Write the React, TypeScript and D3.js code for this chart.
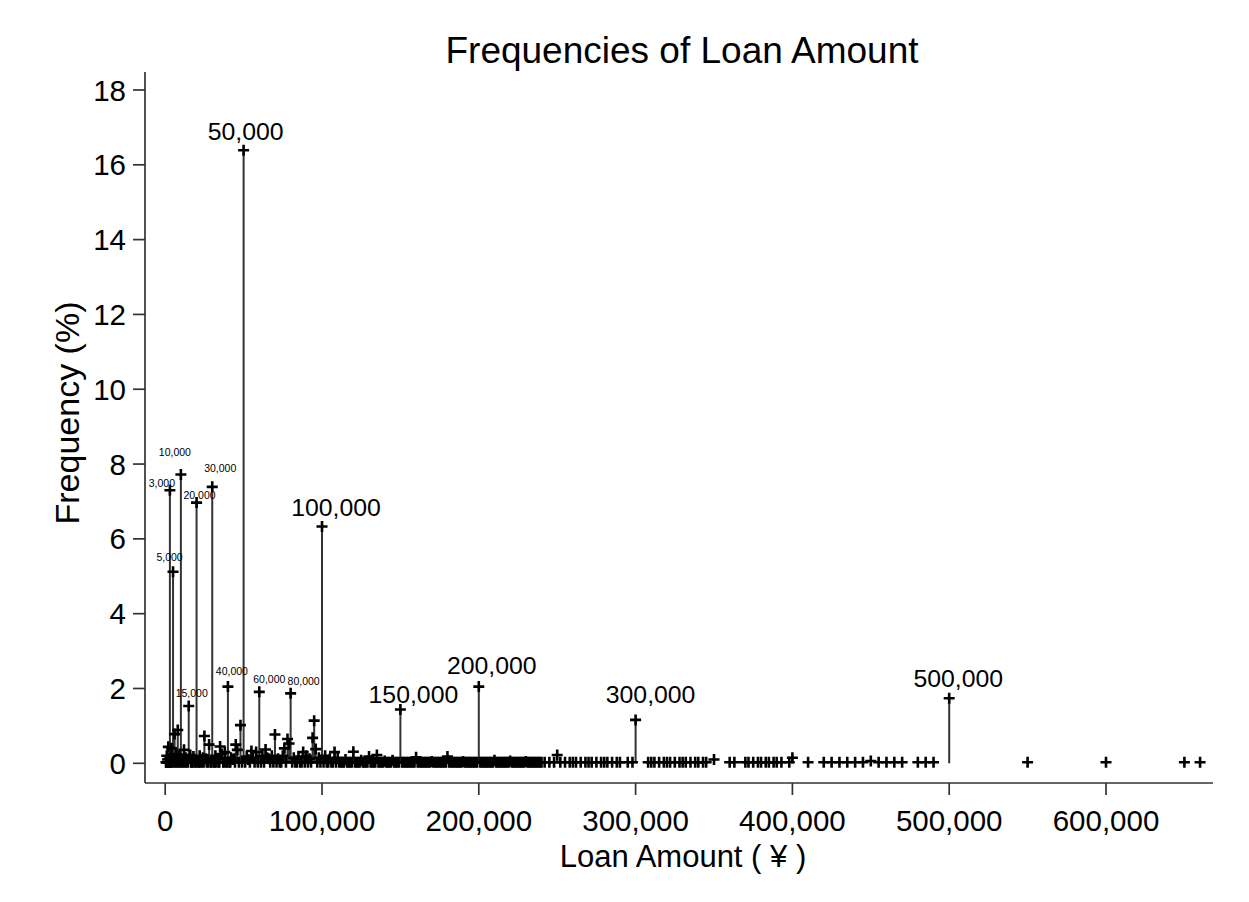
import React from 'react';
import * as d3 from 'd3';

const W = 1249;
const H = 902;

// Labelled loan amounts (¥) and their frequencies (%)
const labeledAmounts = [3000, 5000, 10000, 15000, 20000, 30000, 40000, 50000, 60000, 80000, 100000, 150000, 200000, 300000, 500000];
const labeledFreqs = [7.3, 5.12, 7.72, 1.53, 6.97, 7.39, 2.05, 16.39, 1.91, 1.87, 6.33, 1.44, 2.05, 1.16, 1.74];
const bigLabelAmounts = [50000, 100000, 150000, 200000, 300000, 500000];

// Other visible points with noticeable frequency
const midAmounts = [2000, 4000, 6000, 8000, 12000, 25000, 28000, 35000, 45000, 46000, 48000, 55000, 64000, 70000, 76000, 78000, 79000, 94000, 95000, 96000, 102000, 108000, 120000, 130000, 135000, 160000, 180000, 250000, 350000, 400000, 450000];
const midFreqs = [0.44, 0.4, 0.78, 0.89, 0.36, 0.73, 0.5, 0.45, 0.5, 0.36, 1.02, 0.33, 0.37, 0.77, 0.4, 0.65, 0.53, 0.68, 1.14, 0.38, 0.2, 0.3, 0.31, 0.18, 0.22, 0.16, 0.18, 0.22, 0.1, 0.15, 0.06];

// Low-frequency points forming the clutter near the baseline
const lowAmounts = [1000, 1500, 2500, 3500, 4500, 7000, 9000, 11000, 13000, 14000, 16000, 18000, 22000, 23000, 24000, 26000, 27000, 32000, 33000, 36000, 38000, 42000, 43000, 44000, 52000, 53000, 56000, 58000, 62000, 65000, 66000, 68000, 72000, 75000, 82000, 85000, 88000, 90000, 92000, 98000, 105000, 110000, 115000, 125000, 140000, 145000, 170000, 190000, 210000, 220000, 230000];
const lowFreqs = [0.2, 0.1, 0.12, 0.15, 0.1, 0.25, 0.2, 0.12, 0.15, 0.1, 0.22, 0.18, 0.2, 0.1, 0.15, 0.12, 0.1, 0.2, 0.12, 0.25, 0.3, 0.15, 0.1, 0.12, 0.18, 0.1, 0.15, 0.3, 0.2, 0.15, 0.12, 0.2, 0.12, 0.2, 0.15, 0.18, 0.3, 0.2, 0.12, 0.15, 0.12, 0.14, 0.1, 0.08, 0.06, 0.08, 0.05, 0.05, 0.08, 0.06, 0.05];

// Amounts (thousand ¥) observed only once or twice (~0.03%)
const rareAmountsK = [
  0.5, 0.8, 1.2, 1.8, 2.2, 2.8, 3.2, 3.8, 4.2, 5.5, 6.5, 7.5, 8.5, 9.5, 10.5, 11.5, 12.5, 13.5, 14.5, 16.5, 17, 17.5, 19, 19.5,
  21, 21.5, 22.5, 23.5, 24.5, 26.5, 27.5, 29, 29.5, 31, 31.5, 32.5, 34, 34.5, 37, 37.5, 39, 39.5, 41, 41.5, 44.5, 47, 49, 51,
  54, 57, 59, 61, 63, 67, 69, 71, 73, 74, 77, 81, 83, 84, 86, 87, 89, 91, 93, 97, 99, 101, 103, 104, 106, 107, 109, 111,
  112, 113, 114, 116, 117, 118, 119, 121, 122, 123, 124, 126, 127, 128, 129, 131, 132, 133, 134, 136, 137, 138, 139, 141,
  142, 143, 144, 146, 147, 148, 149, 151, 152, 153, 154, 155, 156, 157, 158, 159, 161, 162, 163, 164, 165, 166, 167, 168,
  169, 171, 172, 173, 174, 175, 176, 177, 178, 179, 181, 182, 183, 184, 185, 186, 187, 188, 189, 191, 192, 193, 194, 195,
  196, 197, 198, 199, 201, 202, 203, 204, 205, 206, 207, 208, 209, 211, 212, 213, 214, 215, 216, 217, 218, 219, 221, 222,
  223, 224, 225, 226, 227, 228, 229, 231, 232, 233, 234, 235, 236, 237, 238, 239, 240, 242, 245, 248, 252, 255, 258, 260,
  262, 265, 268, 270, 272, 275, 278, 280, 282, 285, 288, 290, 295, 298, 308, 310, 312, 315, 318, 320, 322, 325, 328, 330,
  332, 335, 338, 340, 343, 345, 360, 363, 370, 372, 375, 378, 380, 383, 385, 388, 390, 393, 398, 410, 420, 425, 430, 435,
  440, 445, 455, 460, 465, 470, 480, 485, 490, 550, 600, 650, 660
];
const rareFreq = 0.03;

const xTicks = [0, 100000, 200000, 300000, 400000, 500000, 600000];
const yTicks = [0, 2, 4, 6, 8, 10, 12, 14, 16, 18];

// label nudges (annotation layout)
const labelNudge: Record<number, [number, number]> = {
  3000: [-8, -3], 5000: [-3.5, -11], 10000: [-6, -18.5], 15000: [3, -9], 20000: [3, -3.4], 30000: [8, -15],
  40000: [4, -12], 60000: [10, -9], 80000: [13, -8],
  50000: [2, -10], 100000: [14, -11], 150000: [13, -6], 200000: [13, -13], 300000: [15, -17], 500000: [9, -11],
};

const FONT = "'Liberation Sans', Arial, Helvetica, sans-serif";
const fmt = d3.format(',');

export default function App() {
  const x = d3.scaleLinear().domain([0, 600000]).range([165.2, 1106]);
  const y = d3.scaleLinear().domain([0, 18]).range([763.3, 90]);

  const pts: { a: number; f: number }[] = [];
  rareAmountsK.forEach((k) => pts.push({ a: k * 1000, f: rareFreq }));
  lowAmounts.forEach((a, i) => pts.push({ a, f: lowFreqs[i] }));
  midAmounts.forEach((a, i) => pts.push({ a, f: midFreqs[i] }));
  labeledAmounts.forEach((a, i) => pts.push({ a, f: labeledFreqs[i] }));

  const axisColor = '#333';
  const ms = 5.5;

  return (
    <svg width={W} height={H} style={{ position: 'absolute', left: 0, top: 0, background: '#fff' }} fontFamily={FONT}>
      <rect x={0} y={0} width={W} height={H} fill="#fff" />
      <text x={682} y={63} textAnchor="middle" fontSize={37} fill="#000">Frequencies of Loan Amount</text>

      {/* axes */}
      <line x1={145} x2={145} y1={72} y2={783} stroke={axisColor} strokeWidth={1.7} />
      <line x1={145} x2={1213} y1={783} y2={783} stroke={axisColor} strokeWidth={1.7} />
      {yTicks.map((t) => (
        <g key={'y' + t}>
          <line x1={133} x2={145} y1={y(t)} y2={y(t)} stroke={axisColor} strokeWidth={1.7} />
          <text x={126} y={y(t)} dy="0.36em" textAnchor="end" fontSize={29.5} fill="#000">{t}</text>
        </g>
      ))}
      {xTicks.map((t) => (
        <g key={'x' + t}>
          <line x1={x(t)} x2={x(t)} y1={783} y2={795} stroke={axisColor} strokeWidth={1.7} />
          <text x={x(t)} y={831} textAnchor="middle" fontSize={29.5} fill="#000">{fmt(t)}</text>
        </g>
      ))}
      <text x={683} y={867} textAnchor="middle" fontSize={31} fill="#000">Loan Amount ( ¥ )</text>
      <text transform={`translate(79,413) rotate(-90)`} textAnchor="middle" fontSize={34} fill="#000">Frequency (%)</text>

      {/* stems */}
      {pts.map((p, i) => (
        <line key={'s' + i} x1={x(p.a)} x2={x(p.a)} y1={y(0)} y2={y(p.f)} stroke="#333" strokeWidth={2} />
      ))}
      {/* markers */}
      {pts.map((p, i) => (
        <path key={'m' + i} d={`M${x(p.a) - ms},${y(p.f)}H${x(p.a) + ms}M${x(p.a)},${y(p.f) - ms}V${y(p.f) + ms}`} stroke="#000" strokeWidth={2.6} fill="none" />
      ))}
      {/* labels */}
      {labeledAmounts.map((a, i) => {
        const big = bigLabelAmounts.includes(a);
        const [dx, dy] = labelNudge[a] || [0, -8];
        return (
          <text key={'l' + a} x={x(a) + dx} y={y(labeledFreqs[i]) + dy} textAnchor="middle" fontSize={big ? 24.8 : 10.5} fill="#000">{fmt(a)}</text>
        );
      })}
    </svg>
  );
}
